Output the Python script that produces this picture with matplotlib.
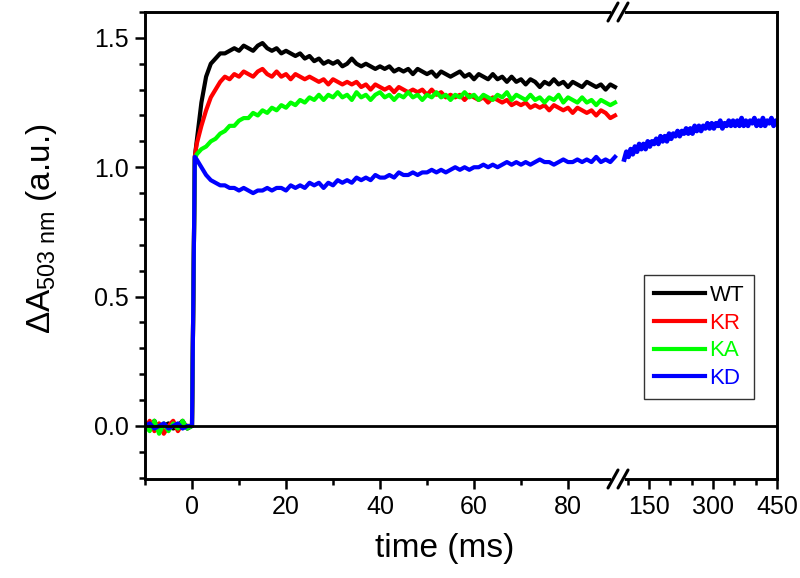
import matplotlib
matplotlib.use("Agg")
import matplotlib.pyplot as plt
from matplotlib.lines import Line2D
from matplotlib.ticker import FixedLocator, FormatStrFormatter

plt.rcParams['font.family'] = ['Liberation Sans', 'DejaVu Sans']
plt.rcParams['mathtext.fontset'] = 'custom'
plt.rcParams['mathtext.rm'] = 'Liberation Sans'
plt.rcParams['mathtext.it'] = 'Liberation Sans'

# -----------------------------
# data
# -----------------------------
# left part: time in ms
t_left = [-10, -9, -8, -7, -6, -5, -4, -3, -2, -1, 0, 0.6, 1,
          2, 3, 4, 5, 6, 7, 8, 9, 10, 11, 12, 13, 14, 15, 16, 17, 18, 19,
          20, 21, 22, 23, 24, 25, 26, 27, 28, 29, 30, 31, 32, 33, 34, 35,
          36, 37, 38, 39, 40, 41, 42, 43, 44, 45, 46, 47, 48, 49, 50, 51,
          52, 53, 54, 55, 56, 57, 58, 59, 60, 61, 62, 63, 64, 65, 66, 67,
          68, 69, 70, 71, 72, 73, 74, 75, 76, 77, 78, 79, 80, 81, 82, 83,
          84, 85, 86, 87, 88, 89, 90]

wt = [0.01, -0.01, 0.02, -0.02, 0.0, 0.01, -0.01, 0.0, 0.02, -0.01, 0.0, 1.04, 1.10,
      1.25, 1.35, 1.40, 1.42, 1.44, 1.44, 1.45, 1.46, 1.45, 1.47, 1.46, 1.45, 1.47, 1.48, 1.46, 1.45, 1.46, 1.44,
      1.45, 1.44, 1.43, 1.44, 1.42, 1.43, 1.41, 1.42, 1.40, 1.41, 1.40, 1.41, 1.39, 1.40, 1.42, 1.40,
      1.39, 1.40, 1.39, 1.38, 1.39, 1.38, 1.39, 1.37, 1.38, 1.37, 1.38, 1.36, 1.38, 1.37, 1.36, 1.37,
      1.35, 1.37, 1.36, 1.35, 1.36, 1.37, 1.35, 1.36, 1.34, 1.36, 1.35, 1.34, 1.36, 1.34, 1.35, 1.33,
      1.35, 1.33, 1.34, 1.32, 1.34, 1.33, 1.31, 1.33, 1.32, 1.34, 1.32, 1.33, 1.31, 1.33, 1.32, 1.31,
      1.33, 1.32, 1.31, 1.32, 1.30, 1.32, 1.31]

kr = [-0.01, 0.02, -0.02, 0.01, -0.03, 0.0, 0.02, -0.02, 0.01, 0.0, 0.0, 1.04, 1.09,
      1.16, 1.22, 1.27, 1.30, 1.33, 1.35, 1.34, 1.36, 1.35, 1.37, 1.36, 1.35, 1.37, 1.38, 1.36, 1.35, 1.37, 1.35,
      1.36, 1.34, 1.36, 1.35, 1.34, 1.35, 1.34, 1.33, 1.34, 1.32, 1.34, 1.33, 1.32, 1.33, 1.32, 1.33,
      1.31, 1.32, 1.30, 1.32, 1.31, 1.30, 1.31, 1.29, 1.31, 1.30, 1.29, 1.30, 1.29, 1.30, 1.28, 1.30,
      1.28, 1.29, 1.27, 1.28, 1.27, 1.28, 1.26, 1.28, 1.27, 1.26, 1.27, 1.25, 1.27, 1.26, 1.25, 1.26,
      1.24, 1.25, 1.24, 1.25, 1.23, 1.24, 1.23, 1.24, 1.22, 1.24, 1.23, 1.22, 1.23, 1.21, 1.23, 1.22,
      1.21, 1.22, 1.20, 1.22, 1.21, 1.19, 1.20]

ka = [0.0, -0.02, 0.02, -0.03, 0.01, -0.02, 0.01, -0.01, 0.02, -0.01, 0.0, 1.03, 1.05,
      1.07, 1.08, 1.10, 1.11, 1.13, 1.14, 1.16, 1.16, 1.18, 1.19, 1.19, 1.21, 1.20, 1.22, 1.21, 1.23, 1.22, 1.24,
      1.23, 1.25, 1.24, 1.26, 1.25, 1.27, 1.26, 1.28, 1.26, 1.28, 1.27, 1.29, 1.27, 1.28, 1.26, 1.29,
      1.27, 1.28, 1.26, 1.28, 1.29, 1.27, 1.28, 1.26, 1.28, 1.27, 1.29, 1.27, 1.28, 1.26, 1.28, 1.27,
      1.29, 1.27, 1.28, 1.26, 1.28, 1.27, 1.29, 1.27, 1.28, 1.26, 1.28, 1.27, 1.26, 1.28, 1.27, 1.29,
      1.26, 1.28, 1.27, 1.26, 1.28, 1.26, 1.27, 1.25, 1.27, 1.26, 1.28, 1.25, 1.27, 1.26, 1.25, 1.27,
      1.25, 1.26, 1.24, 1.26, 1.25, 1.24, 1.25]

kd = [0.0, 0.01, -0.01, 0.0, 0.01, -0.01, 0.0, 0.01, -0.01, 0.0, 0.0, 1.04, 1.03,
      1.00, 0.97, 0.95, 0.94, 0.93, 0.93, 0.92, 0.92, 0.91, 0.92, 0.91, 0.90, 0.91, 0.91, 0.92, 0.91, 0.92, 0.92,
      0.91, 0.93, 0.92, 0.93, 0.92, 0.94, 0.93, 0.94, 0.92, 0.94, 0.93, 0.95, 0.94, 0.95, 0.94, 0.96,
      0.95, 0.96, 0.95, 0.97, 0.96, 0.96, 0.97, 0.96, 0.98, 0.97, 0.97, 0.98, 0.97, 0.98, 0.98, 0.99,
      0.98, 0.99, 0.98, 0.99, 1.00, 0.99, 1.00, 0.99, 1.00, 1.00, 1.01, 1.00, 1.01, 1.00, 1.01, 1.02,
      1.01, 1.02, 1.01, 1.02, 1.01, 1.02, 1.03, 1.02, 1.02, 1.01, 1.02, 1.03, 1.02, 1.02, 1.03, 1.02,
      1.03, 1.02, 1.04, 1.02, 1.03, 1.02, 1.04]

# right part (after the axis break): only KD
t_right = [92, 97, 102, 107, 112, 117, 122, 127, 132, 137, 142, 147, 152, 157, 162, 167, 172, 177,
           182, 187, 192, 197, 202, 207, 212, 217, 222, 227, 232, 237, 242, 247, 252, 257, 262, 267,
           272, 277, 282, 287, 292, 297, 302, 307, 312, 317, 322, 327, 332, 337, 342, 347, 352, 357,
           362, 367, 372, 377, 382, 387, 392, 397, 402, 407, 412, 417, 422, 427, 432, 437, 442, 447, 450]
kd_right = [1.03, 1.06, 1.04, 1.07, 1.05, 1.08, 1.06, 1.09, 1.07, 1.09, 1.07, 1.10, 1.08, 1.10, 1.09, 1.11, 1.09, 1.12,
            1.10, 1.12, 1.10, 1.13, 1.11, 1.13, 1.12, 1.14, 1.12, 1.14, 1.13, 1.15, 1.13, 1.15, 1.13, 1.16, 1.14, 1.16,
            1.14, 1.16, 1.15, 1.17, 1.15, 1.17, 1.15, 1.17, 1.16, 1.18, 1.15, 1.17, 1.16, 1.18, 1.16, 1.18, 1.16, 1.18,
            1.16, 1.19, 1.16, 1.18, 1.16, 1.18, 1.17, 1.19, 1.16, 1.18, 1.16, 1.19, 1.16, 1.18, 1.17, 1.19, 1.16, 1.18, 1.17]

labels = ['WT', 'KR', 'KA', 'KD']
colors = ['#000000', '#ff0000', '#00ff00', '#0000ff']

# -----------------------------
# layout (pixel positions of the frame)
# -----------------------------
W, H = 800, 578


def fx(px):
    return px / W


def fy(py):
    return 1 - py / H


x0, xb, x1 = 145, 618, 777
ytop, ybot = 12, 479

fig = plt.figure(figsize=(8, 5.78), dpi=100)
ax1 = fig.add_axes([fx(x0), fy(ybot), fx(xb) - fx(x0), fy(ytop) - fy(ybot)])
ax2 = fig.add_axes([fx(xb), fy(ybot), fx(x1) - fx(xb), fy(ytop) - fy(ybot)])

lw = 3.0
for series, lab, col in zip([wt, kr, ka, kd], labels, colors):
    ax1.plot(t_left, series, color=col, lw=lw, label=lab)
ax2.plot(t_right, kd_right, color=colors[3], lw=3.4)

for ax in (ax1, ax2):
    ax.axhline(0, color='black', lw=2.0, zorder=3)
    ax.set_ylim(-0.205, 1.6)
    for s in ax.spines.values():
        s.set_linewidth(2.1)

ax1.set_xlim(-10, -10 + (xb - x0) / 4.7)
ax2.set_xlim(450 - (x1 - xb) / 0.4267, 450)

ax1.spines['right'].set_visible(False)
ax2.spines['left'].set_visible(False)

ax1.xaxis.set_major_locator(FixedLocator([0, 20, 40, 60, 80]))
ax1.xaxis.set_minor_locator(FixedLocator([-10, 10, 30, 50, 70]))
ax1.yaxis.set_major_locator(FixedLocator([0, 0.5, 1.0, 1.5]))
ax1.yaxis.set_minor_locator(FixedLocator([-0.2, -0.1, 0.1, 0.2, 0.3, 0.4, 0.6, 0.7, 0.8, 0.9,
                                          1.1, 1.2, 1.3, 1.4, 1.6]))
ax1.yaxis.set_major_formatter(FormatStrFormatter('%.1f'))

ax2.xaxis.set_major_locator(FixedLocator([150, 300, 450]))
ax2.xaxis.set_minor_locator(FixedLocator([100, 200, 250, 350, 400]))
ax2.set_yticks([])

for ax in (ax1, ax2):
    ax.tick_params(which='major', direction='out', length=7.5, width=1.8, labelsize=18, pad=4)
    ax.tick_params(which='minor', direction='out', length=4.5, width=1.8)
    ax.tick_params(top=False, right=False, which='both')

# axis break marks
for ypx in (ytop, ybot):
    fig.add_artist(Line2D([fx(614), fx(622)], [fy(ypx), fy(ypx)], color='white', lw=4))
    for cx in (613, 623):
        fig.add_artist(Line2D([fx(cx - 5), fx(cx + 5)], [fy(ypx + 9), fy(ypx - 9)],
                              color='black', lw=2.2, solid_capstyle='round'))

# axis titles
fig.text(fx(445), fy(548), 'time (ms)', fontsize=24, ha='center', va='center')
fig.text(fx(42), fy(229), r'$\Delta A_{\mathrm{503\ nm}}$ (a.u.)', fontsize=24,
         rotation=90, ha='center', va='center')

# legend
handles = [Line2D([0], [0], color=c, lw=3) for c in colors]
leg = fig.legend(handles, labels, loc='upper left', bbox_to_anchor=(fx(644), fy(275)),
                 fontsize=16, frameon=True, fancybox=False, handlelength=2.3,
                 handletextpad=0.2, labelspacing=0.3, borderpad=0.45, borderaxespad=0)
leg.get_frame().set_edgecolor('black')
leg.get_frame().set_linewidth(1.0)
for txt, c in zip(leg.get_texts(), colors):
    txt.set_color(c)

fig.savefig('out.png', dpi=100)
